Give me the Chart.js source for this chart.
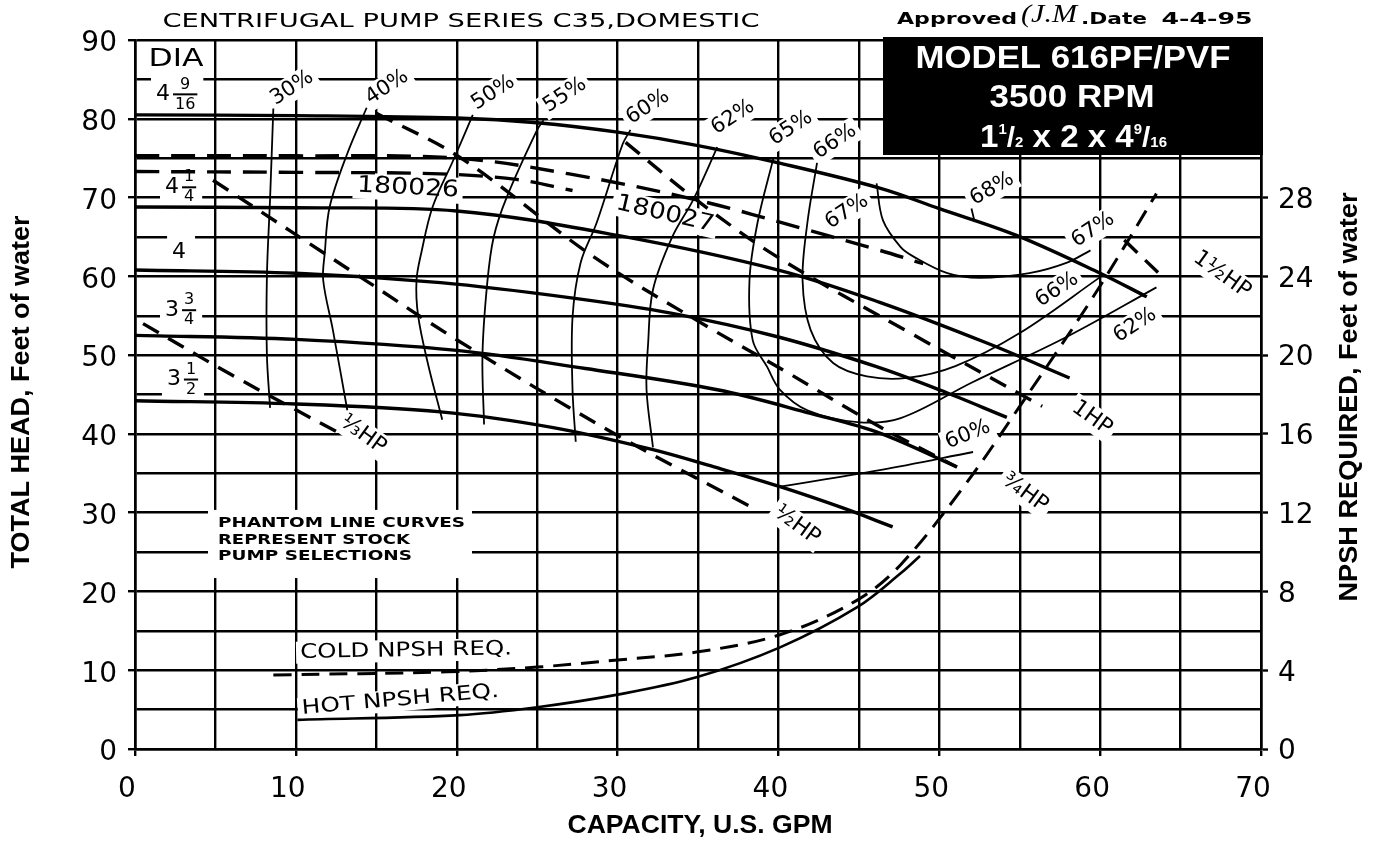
<!DOCTYPE html>
<html>
<head>
<meta charset="utf-8">
<title>Model 616PF/PVF pump curve</title>
<script src="https://cdn.jsdelivr.net/npm/chart.js@4.4.1/dist/chart.umd.min.js"></script>
<style>
  body { margin: 0; background: #fff; }
  canvas { display: block; }
</style>
</head>
<body>
<canvas id="pumpChart" width="1376" height="846"></canvas>
<script>
// Centrifugal pump series C35, model 616PF/PVF, 3500 RPM

// Tick labels
const gpmTicks = [0, 10, 20, 30, 40, 50, 60, 70];
const headTicks = [0, 10, 20, 30, 40, 50, 60, 70, 80, 90];
const npshTicks = [0, 4, 8, 12, 16, 20, 24, 28];

// Head curves per impeller diameter, [GPM, feet]
const dia4_9_16 = [[0, 80.5], [10, 80.4], [20, 80.1], [25, 79.5], [30, 78.3], [35, 76.6], [40, 74.4], [46.3, 71.2], [50, 68.6], [54.8, 65.2], [60, 60.4], [62.9, 57.4]];
const dia4_1_4 = [[0, 68.8], [10, 68.7], [20, 68.3], [30, 65.2], [40, 60.8], [46.3, 56.7], [53, 51.5], [58.1, 47.1]];
const dia4 = [[0, 60.8], [10, 60.4], [19, 59.2], [27, 57.3], [33.4, 55.3], [40, 52.3], [46, 48.6], [50, 45.6], [54.2, 42.1]];
const dia3_3_4 = [[0, 52.5], [10, 52.0], [20, 50.6], [28, 48.3], [36.2, 45.6], [42, 42.6], [46.3, 40.1], [51.1, 35.8]];
const dia3_1_2 = [[0, 44.2], [10, 43.8], [19, 42.8], [26, 40.8], [32.2, 38], [36, 35.8], [40.1, 33.3], [44, 30.6], [47.1, 28.2]];

// Stock selections (phantom lines)
const stock180026 = [[0, 73.3], [10, 73.2], [19, 73.0], [23.7, 72.3], [27.2, 70.9]];
const stock180027 = [[0, 75.3], [10, 75.3], [20, 75.0], [27, 73], [34.9, 69.7], [41.8, 65.9], [46.3, 63.3], [49, 61.6]];

// Efficiency lines
const eff30 = [[8.6, 81.3], [8.4, 70], [8.2, 60], [8.2, 50], [8.4, 43.3]];
const eff40 = [[14.4, 81.4], [13.2, 75.6], [12.1, 68.8], [11.8, 63], [11.7, 59.5], [12.3, 53.2], [13.2, 43]];
const eff50 = [[21, 80.5], [19.8, 74.8], [18.5, 68.8], [17.8, 63], [17.5, 59.5], [17.6, 55], [18.2, 49], [19.1, 41.8]];
const eff55 = [[25.4, 79.8], [25, 78.6], [23.1, 70], [22.3, 65], [21.9, 59.2], [21.6, 50], [21.7, 41.2]];
const eff60 = [[30.8, 78.6], [30.3, 76.7], [28.7, 66.8], [27.7, 61.7], [27.2, 54.8], [27.2, 45.6], [27.4, 39]];
const eff60b = [[40.1, 33.3], [46.3, 35.4], [52.1, 37.7]];
const eff62 = [[36.2, 76.4], [34.7, 69.7], [33.4, 65], [32.2, 58.3], [31.9, 51.5], [31.8, 45.6], [32.2, 38.3]];
const eff65 = [[39.7, 75.1], [38.7, 66.8], [38.2, 59.5], [38.4, 51.9], [39.3, 48.5], [40.1, 45.6], [41.8, 43], [44.9, 41.5], [47.6, 42], [52, 46.5], [58, 52.4], [63.5, 58.6]];
const eff66 = [[42.4, 74.4], [41.8, 66.8], [41.5, 59.5], [42, 53.2], [43.4, 49], [45.5, 47.3], [48, 47.1], [51, 48.6], [55, 52.8], [60, 59.9]];
const eff67 = [[46.1, 71.8], [46.5, 67.1], [47.6, 63.7], [48.4, 62.5], [50.5, 60.4], [52.5, 59.8], [55.6, 60.4], [57.9, 61.7], [59.4, 63.3]];
const eff68 = [[52.0, 68.6], [52.2, 66.9]];

// Horsepower lines
const hp1_3 = [[0.5, 54], [6, 47.5], [12.6, 40.2]];
const hp1_2 = [[4.85, 72.2], [14.4, 59.4], [20.2, 51.7], [30, 39.8], [38.7, 30.3]];
const hp3_4 = [[15, 80.7], [20.2, 75.1], [28.5, 62.5], [35.6, 53.6], [40.3, 48.1], [46.3, 40.9], [51.1, 35.8]];
const hp1 = [[30.5, 77], [34.9, 69.7], [39.9, 62.5], [48.2, 52.8], [56.4, 43.5]];
const hp1_1_2 = [[61.5, 64.6], [63.9, 59.9]];

// NPSH required, right axis feet
const npshCold = [[8.6, 3.76], [19.4, 3.92], [25, 4.16], [30, 4.52], [34.9, 4.92], [40.1, 5.8], [44.9, 7.56], [47.6, 9.36], [51.5, 13.3], [55, 17.4], [59.6, 23], [63.5, 28.2]];
const npshHot = [[10.1, 1.48], [20.2, 1.72], [25, 2.12], [30, 2.76], [34.9, 3.64], [40.1, 5.16], [44.9, 7.2], [47.6, 8.92], [48.8, 9.8]];

const PLOT = '"DejaVu Sans", sans-serif';
const HELV = '"Liberation Sans", Arial, sans-serif';

// Text on the plot, placed at [GPM, feet]
const notes = [
  { t: '30%', x: 9.76, y: 83.9, r: -33, s: 'pct' },
  { t: '40%', x: 15.67, y: 84.0, r: -33, s: 'pct' },
  { t: '50%', x: 22.26, y: 83.3, r: -33, s: 'pct' },
  { t: '55%', x: 26.73, y: 83.0, r: -33, s: 'pct' },
  { t: '60%', x: 31.89, y: 81.5, r: -33, s: 'pct' },
  { t: '62%', x: 37.17, y: 80.2, r: -33, s: 'pct' },
  { t: '65%', x: 40.78, y: 78.8, r: -33, s: 'pct' },
  { t: '66%', x: 43.52, y: 77.1, r: -33, s: 'pct' },
  { t: '67%', x: 44.26, y: 68.2, r: -33, s: 'pct' },
  { t: '68%', x: 53.28, y: 71.1, r: -30, s: 'pct' },
  { t: '67%', x: 59.56, y: 65.9, r: -33, s: 'pct' },
  { t: '66%', x: 57.32, y: 58.3, r: -33, s: 'pct' },
  { t: '62%', x: 62.17, y: 53.8, r: -33, s: 'pct' },
  { t: '60%', x: 51.78, y: 39.9, r: -22, s: 'pct' },
  { t: '\u2153HP', x: 14.17, y: 39.9, r: 36, s: 'hp' },
  { t: '\u00bdHP', x: 41.15, y: 28.4, r: 36, s: 'hp' },
  { t: '\u00beHP', x: 55.33, y: 32.5, r: 36, s: 'hp' },
  { t: '1HP', x: 59.49, y: 42.0, r: 36, s: 'hp' },
  { t: '1\u00bdHP', x: 67.57, y: 60.2, r: 36, s: 'hp' },
  { t: '180026', x: 16.97, y: 71.2, r: 3, s: 'stock', w: 102 },
  { t: '180027', x: 32.95, y: 67.9, r: 13, s: 'stock', w: 100 },
  { t: 'DIA', x: 2.55, y: 87.5, r: 0, s: 'dia', w: 55 },
  { t: 'COLD NPSH REQ.', x: 16.85, y: 12.45, r: -1, s: 'npsh', w: 212 },
  { t: 'HOT NPSH REQ.', x: 16.5, y: 6.2, r: -5, s: 'npsh', w: 198 },
  { t: 'PHANTOM LINE CURVES', x: 5.16, y: 28.7, r: 0, s: 'block', w: 247, a: 'left' },
  { t: 'REPRESENT STOCK', x: 5.16, y: 26.5, r: 0, s: 'block', w: 192, a: 'left' },
  { t: 'PUMP SELECTIONS', x: 5.16, y: 24.4, r: 0, s: 'block', w: 194, a: 'left' }
];
const noteStyles = {
  pct: { font: '21px ' + PLOT, h: 21 },
  hp: { font: '22px ' + PLOT, h: 22 },
  stock: { font: '23px ' + PLOT, h: 22 },
  dia: { font: '24px ' + PLOT, h: 22 },
  npsh: { font: '20px ' + PLOT, h: 18 },
  block: { font: 'bold 14px ' + PLOT, h: 0 }
};
// Impeller diameter labels: whole, numerator, denominator, [GPM, feet]
const diaNotes = [
  { w: '4', n: '9', d: '16', x: 1.74, y: 83.1 },
  { w: '4', n: '1', d: '4', x: 2.3, y: 71.3 },
  { w: '4', n: '', d: '', x: 2.74, y: 63.1 },
  { w: '3', n: '3', d: '4', x: 2.3, y: 55.7 },
  { w: '3', n: '1', d: '2', x: 2.42, y: 46.9 }
];
// White patch behind the stock selection note, [GPM, feet] corners
const blockPatch = [4.54, 30.35, 20.95, 21.7];

function putText(ctx, text, cx, cy, opt) {
  ctx.save();
  ctx.font = opt.font;
  ctx.fillStyle = opt.color || '#000';
  ctx.textAlign = opt.align || 'center';
  ctx.textBaseline = 'middle';
  ctx.translate(cx, cy);
  if (opt.rot) ctx.rotate(opt.rot * Math.PI / 180);
  if (opt.width) ctx.scale(opt.width / ctx.measureText(text).width, 1);
  ctx.fillText(text, 0, 0);
  ctx.restore();
}

// white patch behind a label so the grid stops short of it
function blank(ctx, text, cx, cy, opt) {
  if (!opt.h) return;
  ctx.save();
  ctx.font = opt.font;
  const w = opt.width || ctx.measureText(text).width;
  ctx.translate(cx, cy);
  if (opt.rot) ctx.rotate(opt.rot * Math.PI / 180);
  ctx.fillStyle = '#fff';
  const x0 = opt.align === 'left' ? -4 : -w / 2 - 4;
  ctx.fillRect(x0, -opt.h / 2 - 2, w + 8, opt.h + 4);
  ctx.restore();
}

function eachNote(chart, fn) {
  const sx = chart.scales.x, sy = chart.scales.y;
  notes.forEach(n => {
    const st = noteStyles[n.s];
    fn(n.t, sx.getPixelForValue(n.x), sy.getPixelForValue(n.y),
      { font: st.font, h: st.h, rot: n.r, width: n.w, align: n.a });
  });
}

function drawMixed(ctx, d, px, py, erase) {
  ctx.save();
  ctx.font = '22px ' + PLOT;
  const ww = ctx.measureText(d.w).width;
  ctx.font = '16px ' + PLOT;
  const fw = d.n ? Math.max(ctx.measureText(d.n).width, ctx.measureText(d.d).width) + 4 : 0;
  const fx = px + ww / 2 + 3 + fw / 2;
  if (erase) {
    ctx.fillStyle = '#fff';
    ctx.fillRect(px - ww / 2 - 5, py - 20, ww + fw + 14, 40);
    ctx.restore();
    return;
  }
  ctx.fillStyle = '#000';
  ctx.textAlign = 'center';
  ctx.textBaseline = 'middle';
  ctx.font = '22px ' + PLOT;
  ctx.fillText(d.w, px, py);
  if (d.n) {
    ctx.font = '16px ' + PLOT;
    ctx.fillText(d.n, fx, py - 10);
    ctx.fillText(d.d, fx, py + 10);
    ctx.fillRect(fx - fw / 2, py - 1, fw, 2);
  }
  ctx.restore();
}

const notesPlugin = {
  id: 'notes',
  beforeDatasetsDraw(chart) {
    const ctx = chart.ctx, sx = chart.scales.x, sy = chart.scales.y;
    eachNote(chart, (t, px, py, opt) => blank(ctx, t, px, py, opt));
    diaNotes.forEach(d => drawMixed(ctx, d, sx.getPixelForValue(d.x), sy.getPixelForValue(d.y), true));
    const x0 = sx.getPixelForValue(blockPatch[0]), y0 = sy.getPixelForValue(blockPatch[1]);
    const x1 = sx.getPixelForValue(blockPatch[2]), y1 = sy.getPixelForValue(blockPatch[3]);
    ctx.fillStyle = '#fff';
    ctx.fillRect(x0, y0, x1 - x0, y1 - y0);
  },
  afterDatasetsDraw(chart) {
    const ctx = chart.ctx, sx = chart.scales.x, sy = chart.scales.y;
    eachNote(chart, (t, px, py, opt) => putText(ctx, t, px, py, opt));
    diaNotes.forEach(d => drawMixed(ctx, d, sx.getPixelForValue(d.x), sy.getPixelForValue(d.y), false));
  },
  afterDraw(chart) {
    const ctx = chart.ctx;
    // header line
    putText(ctx, 'CENTRIFUGAL PUMP SERIES C35,DOMESTIC', 461, 22, { font: '20px ' + PLOT, width: 597 });
    putText(ctx, 'Approved', 957, 20, { font: 'bold 15px ' + PLOT, width: 120 });
    putText(ctx, '(J.M', 1049, 15, { font: 'italic 26px "Liberation Serif", serif', width: 56 });
    putText(ctx, '.Date', 1114, 20, { font: 'bold 15px ' + PLOT, width: 66 });
    putText(ctx, '4-4-95', 1207, 20, { font: 'bold 15px ' + PLOT, width: 91 });

    // model box
    ctx.fillStyle = '#000';
    ctx.fillRect(883, 37, 380, 118);
    putText(ctx, 'MODEL 616PF/PVF', 1073, 59, { font: 'bold 31px ' + HELV, width: 315, color: '#fff' });
    putText(ctx, '3500 RPM', 1072, 98, { font: 'bold 32px ' + HELV, width: 165, color: '#fff' });
    const parts = [
      { t: '1', f: 31, dy: 0 }, { t: '1', f: 14, dy: -13 }, { t: '/', f: 28, dy: -1 }, { t: '2', f: 14, dy: 0 },
      { t: ' x ', f: 31, dy: 0 }, { t: '2', f: 31, dy: 0 }, { t: ' x ', f: 31, dy: 0 }, { t: '4', f: 31, dy: 0 },
      { t: '9', f: 14, dy: -13 }, { t: '/', f: 28, dy: -1 }, { t: '16', f: 14, dy: 0 }
    ];
    ctx.save();
    let total = 0;
    parts.forEach(p => { ctx.font = 'bold ' + p.f + 'px ' + HELV; p.w = ctx.measureText(p.t).width; total += p.w; });
    ctx.translate(980, 147);
    ctx.scale(187 / total, 1);
    ctx.fillStyle = '#fff';
    ctx.textBaseline = 'alphabetic';
    let cx = 0;
    parts.forEach(p => { ctx.font = 'bold ' + p.f + 'px ' + HELV; ctx.fillText(p.t, cx, p.dy); cx += p.w; });
    ctx.restore();

    // axis titles
    putText(ctx, 'CAPACITY, U.S. GPM', 700, 826, { font: 'bold 25px ' + HELV, width: 265 });
    putText(ctx, 'TOTAL HEAD, Feet of water', 22, 392, { font: 'bold 25px ' + HELV, width: 353, rot: -90 });
    putText(ctx, 'NPSH REQUIRED, Feet of water', 1350, 397, { font: 'bold 25px ' + HELV, width: 409, rot: -90 });
  }
};

const toPoints = arr => arr.map(p => ({ x: p[0], y: p[1] }));
function series(label, data, style) {
  return Object.assign({
    label: label,
    data: toPoints(data),
    borderColor: '#000',
    backgroundColor: '#000',
    borderWidth: 3.4,
    pointRadius: 0,
    pointHoverRadius: 0,
    fill: false,
    tension: 0.35,
    yAxisID: 'y'
  }, style);
}
const thin = { borderWidth: 1.8 };
const hpDash = { borderDash: [18, 11] };
const phantom = { borderDash: [24, 12] };

const datasets = [
  series('4 9/16', dia4_9_16),
  series('4 1/4', dia4_1_4),
  series('4', dia4),
  series('3 3/4', dia3_3_4),
  series('3 1/2', dia3_1_2),
  series('180026', stock180026, phantom),
  series('180027', stock180027, phantom),
  series('30%', eff30, thin),
  series('40%', eff40, thin),
  series('50%', eff50, thin),
  series('55%', eff55, thin),
  series('60%', eff60, thin),
  series('60% b', eff60b, thin),
  series('62%', eff62, thin),
  series('65%', eff65, thin),
  series('66%', eff66, thin),
  series('67%', eff67, thin),
  series('68%', eff68, thin),
  series('1/3 HP', hp1_3, hpDash),
  series('1/2 HP', hp1_2, hpDash),
  series('3/4 HP', hp3_4, hpDash),
  series('1 HP', hp1, hpDash),
  series('1 1/2 HP', hp1_1_2, hpDash),
  series('Cold NPSH', npshCold, { yAxisID: 'y2', borderDash: [18, 10], borderWidth: 3 }),
  series('Hot NPSH', npshHot, { yAxisID: 'y2', borderWidth: 2.6 })
];

const tickFont = { family: '"DejaVu Sans", sans-serif', size: 28 };
const onTick = list => c => list.includes(c.tick.value) ? '#000' : 'rgba(0,0,0,0)';

new Chart(document.getElementById('pumpChart').getContext('2d'), {
  type: 'line',
  data: { datasets: datasets },
  options: {
    responsive: false,
    animation: false,
    devicePixelRatio: 1,
    layout: { padding: { top: 40, left: 0, right: 0, bottom: 0 } },
    plugins: { legend: { display: false }, tooltip: { enabled: false } },
    scales: {
      x: {
        type: 'linear', min: 0, max: 70,
        ticks: {
          stepSize: 5, autoSkip: false, maxRotation: 0, color: '#000', font: tickFont,
          padding: 17, labelOffset: -8,
          callback: v => gpmTicks.includes(v) ? String(v) : ''
        },
        grid: { color: '#000', lineWidth: 2.4, tickLength: 7, tickWidth: 2.4, tickColor: onTick(gpmTicks) },
        border: { color: '#000', width: 2.6 },
        afterFit: s => { s.height = 97; }
      },
      y: {
        type: 'linear', position: 'left', min: 0, max: 90,
        ticks: {
          stepSize: 5, autoSkip: false, color: '#000', font: tickFont, padding: 11, labelOffset: 4,
          callback: v => headTicks.includes(v) ? String(v) : ''
        },
        grid: { color: '#000', lineWidth: 2.4, tickLength: 7, tickWidth: 2.4, tickColor: onTick(headTicks) },
        border: { color: '#000', width: 2.6 },
        afterFit: s => { s.width = 135; }
      },
      y2: {
        type: 'linear', position: 'right', min: 0, max: 36,
        ticks: {
          stepSize: 4, autoSkip: false, color: '#000', font: tickFont, padding: 10, labelOffset: 3,
          callback: v => npshTicks.includes(v) ? String(v) : ''
        },
        grid: { drawOnChartArea: false, tickLength: 7, tickWidth: 2.4, tickColor: onTick(npshTicks) },
        border: { color: '#000', width: 2.6 },
        afterFit: s => { s.width = 115; }
      }
    }
  },
  plugins: [notesPlugin]
});
</script>
</body>
</html>
